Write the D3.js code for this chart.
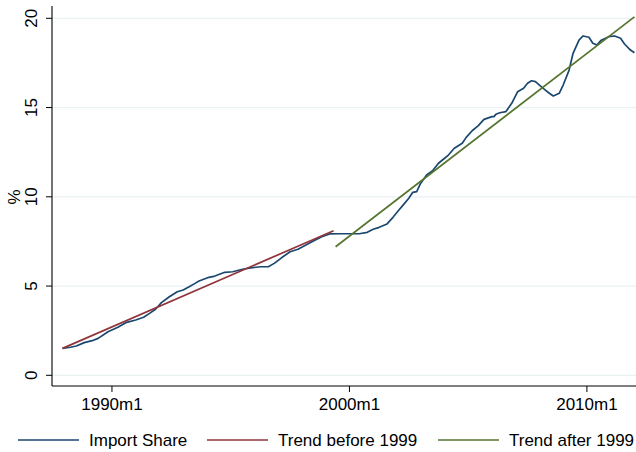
<!DOCTYPE html>
<html>
<head>
<meta charset="utf-8">
<script src="https://cdn.jsdelivr.net/npm/d3@7"></script>
<style>
  body { margin: 0; background: #fff; }
  text { font-family: "Liberation Sans", Arial, sans-serif; fill: #000; }
</style>
</head>
<body>
<div id="chart"></div>
<script>
// Import share (%), monthly
const importDates = ["1987m12","1988m4","1988m7","1988m11","1989m3","1989m6","1989m11","1990m4","1990m8","1991m1",
  "1991m5","1991m8","1991m11","1992m2","1992m6","1992m10","1993m1","1993m4","1993m7","1993m9",
  "1994m2","1994m5","1994m10","1995m2","1995m7","1995m12","1996m4","1996m8","1996m11","1997m3",
  "1997m7","1997m11","1998m3","1998m7","1998m11","1999m3","1999m8","2000m6","2000m10","2001m1",
  "2001m4","2001m8","2001m11","2002m2","2002m4","2002m7","2002m9","2002m11","2003m1","2003m4",
  "2003m7","2003m10","2003m12","2004m3","2004m6","2004m10","2004m12","2005m3","2005m6","2005m9",
  "2006m1","2006m2","2006m3","2006m5","2006m8","2006m11","2007m2","2007m5","2007m7","2007m9",
  "2007m11","2008m1","2008m4","2008m6","2008m8","2008m11","2009m1","2009m4","2009m6","2009m9",
  "2009m11","2010m2","2010m4","2010m6","2010m8","2010m12","2011m3","2011m6","2011m8","2011m11","2012m1"];
const importShare = [1.51,1.57,1.64,1.83,1.94,2.07,2.44,2.69,2.95,3.10,
  3.25,3.47,3.70,4.07,4.40,4.68,4.78,4.96,5.15,5.28,
  5.49,5.56,5.77,5.80,5.94,6.03,6.08,6.08,6.27,6.61,
  6.92,7.06,7.30,7.54,7.76,7.92,7.93,7.93,8.01,8.18,
  8.29,8.48,8.85,9.26,9.52,9.92,10.25,10.29,10.76,11.22,
  11.46,11.88,12.06,12.34,12.72,13.00,13.33,13.70,13.97,14.34,
  14.49,14.49,14.62,14.71,14.77,15.24,15.89,16.08,16.36,16.50,
  16.45,16.26,15.98,15.80,15.65,15.80,16.26,17.10,18.04,18.78,
  19.01,18.94,18.60,18.50,18.75,18.97,19.01,18.88,18.56,18.22,18.07];

// linear trends (end points)
const trendBeforeDates = ["1987m12","1999m5"];
const trendBeforeValues = [1.51, 8.10];
const trendAfterDates = ["1999m6","2012m1"];
const trendAfterValues = [7.20, 20.08];

const xTicks = ["1990m1","2000m1","2010m1"];
const yTicks = [0, 5, 10, 15, 20];

const seriesNames = ["Import Share", "Trend before 1999", "Trend after 1999"];
const seriesColors = ["#1a476f", "#90353b", "#55752f"];

// Stata-style monthly index: 1960m1 = 0
function parseMonth(s) {
  const [y, m] = s.split("m").map(Number);
  return (y - 1960) * 12 + (m - 1);
}

const width = 636, height = 452;
const fontSize = "17px";
const svg = d3.select("#chart").append("svg")
  .attr("width", width)
  .attr("height", height);

const x = d3.scaleLinear().domain([329.7, 624.8]).range([52, 636]);
const y = d3.scaleLinear().domain([0, 20]).range([375.3, 18.3]);

const plotTop = 6, plotBottom = 386, plotLeft = 52, plotRight = 636;

// gridlines
svg.append("g")
  .selectAll("line")
  .data(yTicks)
  .join("line")
  .attr("x1", plotLeft).attr("x2", plotRight)
  .attr("y1", d => y(d)).attr("y2", d => y(d))
  .attr("stroke", "#eaf2f3")
  .attr("stroke-width", 1.2);

// y axis
const yAxis = svg.append("g");
yAxis.append("line")
  .attr("x1", plotLeft).attr("x2", plotLeft)
  .attr("y1", plotTop).attr("y2", plotBottom)
  .attr("stroke", "#000").attr("stroke-width", 1.1);
yAxis.selectAll(".tick")
  .data(yTicks)
  .join("line")
  .attr("x1", plotLeft - 6).attr("x2", plotLeft)
  .attr("y1", d => y(d)).attr("y2", d => y(d))
  .attr("stroke", "#000").attr("stroke-width", 1);
yAxis.selectAll(".lbl")
  .data(yTicks)
  .join("text")
  .attr("transform", d => `translate(37,${y(d)}) rotate(-90)`)
  .attr("text-anchor", "middle")
  .style("font-size", fontSize)
  .text(d => d);

svg.append("text")
  .attr("transform", `translate(20,197) rotate(-90)`)
  .attr("text-anchor", "middle")
  .style("font-size", fontSize)
  .text("%");

// x axis
const xAxis = svg.append("g");
xAxis.append("line")
  .attr("x1", plotLeft).attr("x2", plotRight)
  .attr("y1", plotBottom).attr("y2", plotBottom)
  .attr("stroke", "#000").attr("stroke-width", 1.1);
xAxis.selectAll(".tick")
  .data(xTicks)
  .join("line")
  .attr("x1", d => x(parseMonth(d))).attr("x2", d => x(parseMonth(d)))
  .attr("y1", plotBottom).attr("y2", plotBottom + 6)
  .attr("stroke", "#000").attr("stroke-width", 1);
xAxis.selectAll(".lbl")
  .data(xTicks)
  .join("text")
  .attr("x", d => x(parseMonth(d)))
  .attr("y", 410)
  .attr("text-anchor", "middle")
  .style("font-size", fontSize)
  .text(d => d);

// lines
const line = d3.line()
  .x(d => x(d[0]))
  .y(d => y(d[1]));

const series = [
  importDates.map((d, i) => [parseMonth(d), importShare[i]]),
  trendBeforeDates.map((d, i) => [parseMonth(d), trendBeforeValues[i]]),
  trendAfterDates.map((d, i) => [parseMonth(d), trendAfterValues[i]])
];

series.forEach((pts, i) => {
  svg.append("path")
    .datum(pts)
    .attr("d", line)
    .attr("fill", "none")
    .attr("stroke", seriesColors[i])
    .attr("stroke-width", 1.7)
    .attr("stroke-linejoin", "round");
});

// legend
const legendX = [18, 207, 438];
const legend = svg.append("g");
seriesNames.forEach((name, i) => {
  legend.append("line")
    .attr("x1", legendX[i]).attr("x2", legendX[i] + 61)
    .attr("y1", 440).attr("y2", 440)
    .attr("stroke", seriesColors[i])
    .attr("stroke-width", 1.4);
  legend.append("text")
    .attr("x", legendX[i] + 71)
    .attr("y", 446)
    .style("font-size", fontSize)
    .text(name);
});
</script>
</body>
</html>
